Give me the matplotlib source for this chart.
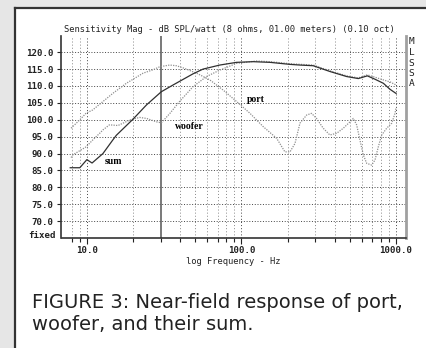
import matplotlib
matplotlib.use("Agg")
import matplotlib.pyplot as plt
from matplotlib.patches import Rectangle
from matplotlib.lines import Line2D
from matplotlib.ticker import FixedLocator, NullFormatter

# ---- data ----
sum_f = [7.8, 9.0, 10.0, 10.8, 12.7, 14.7, 15.5, 19.9, 24.3, 30.3, 36.1, 48.6, 56.4,
         72.4, 93, 119, 153, 206, 239, 291, 373, 479, 570, 652, 731, 828, 915, 1000]
sum_db = [85.8, 85.8, 88.2, 87.2, 90.0, 94.0, 95.4, 100.2, 104.4, 108.3, 110.3, 113.6, 115.0,
          116.2, 117.0, 117.2, 117.0, 116.4, 116.2, 116.0, 114.3, 112.8, 112.2, 113.0, 112.0,
          110.8, 109.0, 107.8]

port_f = [7.9, 9.0, 9.9, 10.9, 12.7, 14.7, 18, 23.1, 26.8, 29.6, 34.3, 37.9, 41.7, 51.2,
          62.4, 76.1, 93, 113, 138, 169, 191, 206, 222, 239, 264, 284, 306, 338, 373, 413,
          456, 504, 529, 556, 584, 614, 646, 696, 731, 768, 808, 870, 938, 985, 1000]
port_db = [97.5, 100, 102, 102.9, 105.4, 107.8, 110.8, 113.8, 114.8, 115.7, 116.2, 116, 115.4,
           113.8, 111.8, 108.8, 105.4, 102, 98, 94.5, 90.5, 90.5, 93, 99, 101.4, 101.9, 100.4,
           97.5, 95.5, 96, 97.5, 99.4, 100.4, 98.5, 94, 89.6, 87.1, 86.6, 88.1, 92, 95.5, 97.5,
           99, 101.9, 103.5]

woofer_f = [7.9, 8.1, 9.9, 10.9, 12.1, 12.7, 14.0, 15.9, 18.9, 21.9, 24.3, 28.2, 30.3, 34.3,
            39.9, 48.6, 59.4, 72.4, 93, 125, 153, 206, 291, 373, 479, 570, 652, 731, 828,
            915, 1000]
woofer_db = [88.8, 89.6, 92, 94, 96, 97, 98.5, 98.3, 99.9, 100.7, 100.4, 99.4, 99.1, 101.8,
             105.5, 109.8, 112.8, 114.7, 116.7, 117.4, 117.2, 116.6, 116.2, 114.5, 113.0,
             112.4, 113.3, 112.6, 111.8, 111.2, 110.3]

y_ticks = [70, 75, 80, 85, 90, 95, 100, 105, 110, 115, 120]
x_major = [10, 100, 1000]
x_minor = [8, 9, 20, 30, 40, 50, 60, 70, 80, 90, 200, 300, 400, 500, 600, 700, 800, 900]
marker_freq = 30

W, H = 427, 348
fig = plt.figure(figsize=(W / 100, H / 100), dpi=100)
fig.patch.set_facecolor("#e6e6e6")

# white panel with dark top/left edges
fig.patches.append(Rectangle((14.5 / W, 0), 1, 1 - 7.5 / H, transform=fig.transFigure,
                             facecolor="white", edgecolor="none", zorder=-10))
fig.lines.append(Line2D([14.5 / W, 14.5 / W], [0, 1 - 7.5 / H], transform=fig.transFigure,
                        color="#333333", lw=1.6, zorder=-5))
fig.lines.append(Line2D([14.5 / W, 1], [1 - 7.5 / H, 1 - 7.5 / H], transform=fig.transFigure,
                        color="#333333", lw=1.6, zorder=-5))

ax = fig.add_axes([61.5 / W, 1 - 238 / H, (406 - 61.5) / W, (238 - 36) / H])
ax.set_zorder(5)
ax.set_facecolor("white")
ax.set_xscale("log")
ax.set_xlim(6.85, 1160)
ax.set_ylim(65, 124.8)

mono = "DejaVu Sans Mono"
# grid
for f in x_major + x_minor:
    if f == marker_freq:
        continue
    c = "#444444" if f in x_major else "#888888"
    ax.axvline(f, color=c, lw=0.7, ls=(0, (1, 2.2)), zorder=1)
for v in y_ticks:
    ax.axhline(v, color="#444444", lw=0.7, ls=(0, (1, 1.8)), zorder=1)
ax.axvline(marker_freq, color="#555555", lw=1.1, zorder=2)

ax.plot(port_f, port_db, color="#8f8f8f", lw=0.9, ls=(0, (1, 1)), zorder=3)
ax.plot(woofer_f, woofer_db, color="#8f8f8f", lw=0.9, ls=(0, (1, 1)), zorder=3)
ax.plot(sum_f, sum_db, color="#303030", lw=0.9, zorder=4)

serif = "Liberation Serif"
ax.text(37, 97.9, "woofer", fontsize=7, fontweight="bold", family=serif, va="center", ha="left")
ax.text(107.8, 106.1, "port", fontsize=7, fontweight="bold", family=serif, va="center", ha="left")
ax.text(13.0, 87.6, "sum", fontsize=7, fontweight="bold", family=serif, va="center", ha="left")

# axes styling
ax.spines["top"].set_visible(False)
ax.spines["left"].set_color("#333333")
ax.spines["bottom"].set_color("#333333")
ax.spines["left"].set_linewidth(1.2)
ax.spines["bottom"].set_linewidth(1.2)
ax.spines["right"].set_color("#a0a0a0")
ax.spines["right"].set_linewidth(2.0)

ax.yaxis.set_major_locator(FixedLocator(y_ticks))
ax.set_yticklabels([f"{v:.1f}" for v in y_ticks], family=mono, fontsize=6.6, fontweight="bold")
ax.tick_params(axis="y", direction="out", length=3, width=0.8, pad=3, colors="#222222")
ax.xaxis.set_major_locator(FixedLocator(x_major))
ax.xaxis.set_minor_locator(FixedLocator(x_minor))
ax.xaxis.set_minor_formatter(NullFormatter())
ax.set_xticklabels([f"{v:.1f}" for v in x_major], family=mono, fontsize=6.6, fontweight="bold")
ax.tick_params(axis="x", which="major", direction="out", length=4, width=0.8, pad=2, colors="#222222")
ax.tick_params(axis="x", which="minor", direction="out", length=3, width=0.8, colors="#222222")

ax.text(-0.018, (65.8 - 65) / (124.8 - 65), "fixed", transform=ax.transAxes, ha="right",
        va="center", family=mono, fontsize=6.6, fontweight="bold", color="#222222")

fig.text(229.5 / W, 1 - 29.5 / H,
         "Sensitivity Mag - dB SPL/watt (8 ohms, 01.00 meters) (0.10 oct)",
         ha="center", va="center", family=mono, fontsize=6.3, color="#222222")
fig.text(233 / W, 1 - 261 / H, "log Frequency - Hz", ha="center", va="center",
         family=mono, fontsize=6.3, color="#222222")
for i, ch in enumerate("MLSSA"):
    fig.text(411.5 / W, 1 - (42 + i * 10.5) / H, ch, ha="center", va="center",
             family=mono, fontsize=6.8, color="#222222")

fig.text(32 / W, 1 - 303 / H, "FIGURE 3: Near-field response of port,", ha="left",
         va="center", family="DejaVu Sans", fontsize=14, color="#222222")
fig.text(32 / W, 1 - 325 / H, "woofer, and their sum.", ha="left",
         va="center", family="DejaVu Sans", fontsize=14, color="#222222")

fig.savefig("out.png", dpi=100, facecolor=fig.get_facecolor())
